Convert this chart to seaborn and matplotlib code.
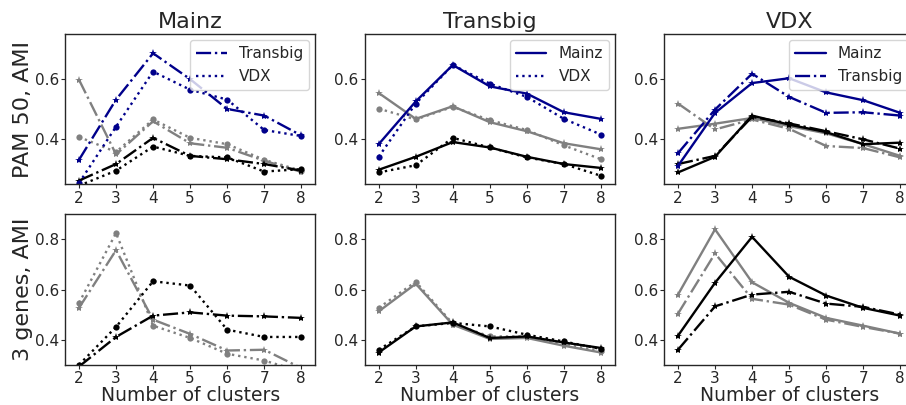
import numpy as np
import pandas as pd
import matplotlib
matplotlib.use("Agg")
import matplotlib.pyplot as plt
from matplotlib.lines import Line2D
import seaborn as sns

sns.set_style("ticks")
plt.rcParams["font.family"] = ["DejaVu Sans"]

clusters = [2, 3, 4, 5, 6, 7, 8]
datasets = ["Mainz", "Transbig", "VDX"]
row_labels = ["PAM 50, AMI", "3 genes, AMI"]

# ---- PAM 50 row ----
# Mainz panel: compared with Transbig (dash-dot) and VDX (dotted)
pam_mainz_transbig_blue = [0.332, 0.532, 0.686, 0.600, 0.501, 0.479, 0.413]
pam_mainz_vdx_blue = [0.255, 0.442, 0.625, 0.565, 0.532, 0.431, 0.411]
pam_mainz_transbig_grey = [0.598, 0.350, 0.460, 0.387, 0.372, 0.329, 0.292]
pam_mainz_vdx_grey = [0.408, 0.358, 0.466, 0.405, 0.384, 0.332, 0.296]
pam_mainz_transbig_black = [0.263, 0.318, 0.405, 0.345, 0.334, 0.318, 0.296]
pam_mainz_vdx_black = [0.246, 0.296, 0.376, 0.345, 0.340, 0.293, 0.301]

# Transbig panel: compared with Mainz (solid) and VDX (dotted)
pam_transbig_mainz_blue = [0.384, 0.526, 0.647, 0.576, 0.552, 0.490, 0.468]
pam_transbig_vdx_blue = [0.342, 0.519, 0.647, 0.585, 0.541, 0.468, 0.416]
pam_transbig_mainz_grey = [0.554, 0.468, 0.510, 0.457, 0.427, 0.387, 0.367]
pam_transbig_vdx_grey = [0.502, 0.466, 0.508, 0.464, 0.431, 0.380, 0.334]
pam_transbig_mainz_black = [0.299, 0.342, 0.391, 0.373, 0.342, 0.318, 0.305]
pam_transbig_vdx_black = [0.290, 0.314, 0.405, 0.373, 0.340, 0.318, 0.279]

# VDX panel: compared with Mainz (solid) and Transbig (dash-dot)
pam_vdx_mainz_blue = [0.312, 0.488, 0.587, 0.603, 0.556, 0.530, 0.488]
pam_vdx_transbig_blue = [0.354, 0.499, 0.618, 0.541, 0.488, 0.490, 0.479]
pam_vdx_mainz_grey = [0.435, 0.452, 0.471, 0.444, 0.420, 0.384, 0.345]
pam_vdx_transbig_grey = [0.519, 0.433, 0.466, 0.435, 0.378, 0.371, 0.340]
pam_vdx_mainz_black = [0.290, 0.342, 0.479, 0.449, 0.424, 0.384, 0.389]
pam_vdx_transbig_black = [0.318, 0.345, 0.475, 0.453, 0.427, 0.400, 0.369]

# ---- 3 genes row ----
gen_mainz_transbig_grey = [0.527, 0.757, 0.480, 0.423, 0.357, 0.360, 0.287]
gen_mainz_vdx_grey = [0.547, 0.825, 0.456, 0.407, 0.344, 0.317, 0.273]
gen_mainz_transbig_black = [0.293, 0.411, 0.496, 0.509, 0.496, 0.493, 0.487]
gen_mainz_vdx_black = [0.300, 0.451, 0.633, 0.616, 0.440, 0.411, 0.411]

gen_transbig_mainz_grey = [0.513, 0.623, 0.460, 0.403, 0.407, 0.376, 0.349]
gen_transbig_vdx_grey = [0.527, 0.631, 0.464, 0.413, 0.413, 0.384, 0.357]
gen_transbig_mainz_black = [0.349, 0.453, 0.469, 0.407, 0.413, 0.389, 0.367]
gen_transbig_vdx_black = [0.360, 0.453, 0.467, 0.453, 0.420, 0.393, 0.363]

gen_vdx_mainz_grey = [0.580, 0.840, 0.629, 0.547, 0.487, 0.456, 0.424]
gen_vdx_transbig_grey = [0.504, 0.744, 0.563, 0.540, 0.480, 0.451, 0.424]
gen_vdx_mainz_black = [0.416, 0.627, 0.810, 0.651, 0.576, 0.527, 0.496]
gen_vdx_transbig_black = [0.360, 0.533, 0.580, 0.591, 0.544, 0.531, 0.500]

BLUE, GREY, BLACK = "darkblue", "grey", "black"
line_style = {"Mainz": "-", "Transbig": "-.", "VDX": ":"}
marker_style = {"Mainz": "*", "Transbig": "*", "VDX": "o"}

panels = [
    # (row, col, [(reference dataset, color, values), ...])
    (0, 0, [("Transbig", GREY, pam_mainz_transbig_grey), ("VDX", GREY, pam_mainz_vdx_grey),
            ("Transbig", BLACK, pam_mainz_transbig_black), ("VDX", BLACK, pam_mainz_vdx_black),
            ("Transbig", BLUE, pam_mainz_transbig_blue), ("VDX", BLUE, pam_mainz_vdx_blue)]),
    (0, 1, [("Mainz", GREY, pam_transbig_mainz_grey), ("VDX", GREY, pam_transbig_vdx_grey),
            ("Mainz", BLACK, pam_transbig_mainz_black), ("VDX", BLACK, pam_transbig_vdx_black),
            ("Mainz", BLUE, pam_transbig_mainz_blue), ("VDX", BLUE, pam_transbig_vdx_blue)]),
    (0, 2, [("Mainz", GREY, pam_vdx_mainz_grey), ("Transbig", GREY, pam_vdx_transbig_grey),
            ("Mainz", BLACK, pam_vdx_mainz_black), ("Transbig", BLACK, pam_vdx_transbig_black),
            ("Mainz", BLUE, pam_vdx_mainz_blue), ("Transbig", BLUE, pam_vdx_transbig_blue)]),
    (1, 0, [("Transbig", GREY, gen_mainz_transbig_grey), ("VDX", GREY, gen_mainz_vdx_grey),
            ("Transbig", BLACK, gen_mainz_transbig_black), ("VDX", BLACK, gen_mainz_vdx_black)]),
    (1, 1, [("Mainz", GREY, gen_transbig_mainz_grey), ("VDX", GREY, gen_transbig_vdx_grey),
            ("Mainz", BLACK, gen_transbig_mainz_black), ("VDX", BLACK, gen_transbig_vdx_black)]),
    (1, 2, [("Mainz", GREY, gen_vdx_mainz_grey), ("Transbig", GREY, gen_vdx_transbig_grey),
            ("Mainz", BLACK, gen_vdx_mainz_black), ("Transbig", BLACK, gen_vdx_transbig_black)]),
]

W, H = 906, 405
fig = plt.figure(figsize=(W / 100, H / 100), dpi=100)

col_left = [65.3, 365.0, 664.3]
row_top = [34.0, 214.3]
ax_w, ax_h = 250.0, 150.5
axes = {}
for r in range(2):
    for c in range(3):
        axes[(r, c)] = fig.add_axes([col_left[c] / W, 1 - (row_top[r] + ax_h) / H,
                                     ax_w / W, ax_h / H])

ylims = [(0.25, 0.75), (0.30, 0.90)]
yticks = [[0.4, 0.6], [0.4, 0.6, 0.8]]

for r, c, series in panels:
    ax = axes[(r, c)]
    for ref, color, values in series:
        df = pd.DataFrame({"k": clusters, "ami": values})
        is_dot = marker_style[ref] == "o"
        sns.lineplot(data=df, x="k", y="ami", ax=ax, color=color,
                     linestyle=line_style[ref], marker=marker_style[ref],
                     markersize=4.5 if is_dot else 6,
                     markeredgewidth=0, linewidth=1.7)
    ax.set_xlim(1.63, 8.38)
    ax.set_ylim(*ylims[r])
    ax.set_xticks(clusters)
    ax.set_yticks(yticks[r])
    ax.set_yticklabels([f"{t:.1f}" for t in yticks[r]])
    ax.tick_params(labelsize=11, length=2.6, width=0.8, pad=2.0)
    ax.set_xlabel("Number of clusters" if r == 1 else "", fontsize=13.5, labelpad=0.2)
    ax.set_ylabel(row_labels[r] if c == 0 else "", fontsize=16, labelpad=1.5)
    if r == 0:
        ax.set_title(datasets[c], fontsize=16, pad=4.5)
        refs = [d for d in datasets if d != datasets[c]]
        handles = [Line2D([0], [0], color=BLUE, linestyle=line_style[d], linewidth=1.7)
                   for d in refs]
        ax.legend(handles, refs, loc="upper right", fontsize=11, frameon=True,
                  borderaxespad=0.4)
    for sp in ax.spines.values():
        sp.set_linewidth(1.0)

fig.savefig("out.png", dpi=100)
